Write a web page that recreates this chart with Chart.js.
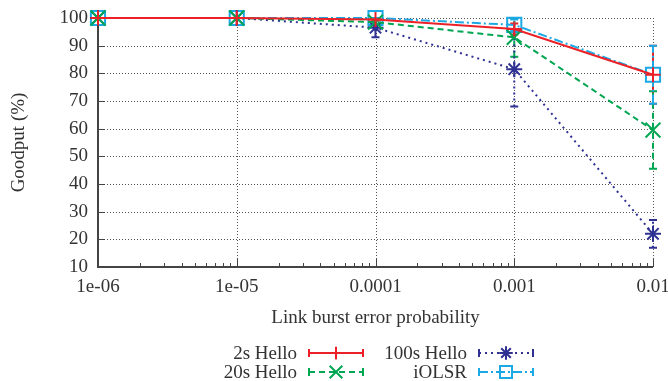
<!DOCTYPE html>
<html>
<head>
<meta charset="utf-8">
<script src="https://cdn.jsdelivr.net/npm/chart.js@4/dist/chart.umd.min.js"></script>
<style>
html,body{margin:0;padding:0;background:#fff;}
#wrap{width:668px;height:381px;position:relative;}
</style>
</head>
<body>
<div id="wrap"><canvas id="c" width="668" height="381"></canvas></div>
<script>
// ---- data ----
const xValues = [1e-6, 1e-5, 1e-4, 1e-3, 1e-2];
const xTickLabels = ['1e-06', '1e-05', '0.0001', '0.001', '0.01'];
const seriesNames = ['2s Hello', '20s Hello', '100s Hello', 'iOLSR'];
const hello2s   = [100, 100, 99.5, 96, 79.5];
const hello2sLo = [100, 100, 99, 94, 69];
const hello2sHi = [100, 100, 100, 98, 90];
const hello20s   = [100, 100, 98.5, 93, 59.5];
const hello20sLo = [100, 100, 97.5, 86, 45.5];
const hello20sHi = [100, 100, 99.5, 100, 73.5];
const hello100s   = [100, 100, 96.5, 81.5, 22];
const hello100sLo = [100, 100, 93, 68, 17];
const hello100sHi = [100, 100, 100, 95, 27];
const iolsr   = [100, 100, 100, 97.5, 79.5];
const iolsrLo = [100, 100, 99.5, 95.5, 69];
const iolsrHi = [100, 100, 100, 99.5, 90];
const yTicks = [10, 20, 30, 40, 50, 60, 70, 80, 90, 100];

const FONT = "'Liberation Serif', 'DejaVu Serif', serif";
const FS = 19;
const TXT = '#333';

function pts(vals){ return xValues.map((x,i)=>({x:x, y:vals[i]})); }

const styles = [
  {color:'#ec2127', dash:[], pointStyle:'cross', radius:7.5},
  {color:'#00a651', dash:[6,4], pointStyle:'crossRot', radius:10.5},
  {color:'#2e3192', dash:[2,4], pointStyle:'star', radius:8},
  {color:'#1ba9e6', dash:[9,3,2,3], pointStyle:'rect', radius:10}
];
const vals = [hello2s, hello20s, hello100s, iolsr];
const lows = [hello2sLo, hello20sLo, hello100sLo, iolsrLo];
const highs = [hello2sHi, hello20sHi, hello100sHi, iolsrHi];

const datasets = seriesNames.map((n,i)=>({
  label:n,
  data:pts(vals[i]),
  errLow:lows[i], errHigh:highs[i],
  borderColor:styles[i].color,
  backgroundColor:'rgba(0,0,0,0)',
  borderWidth:2,
  borderDash:styles[i].dash,
  pointStyle:styles[i].pointStyle,
  pointRadius:styles[i].radius,
  pointBorderWidth:2,
  pointBorderColor:styles[i].color,
  pointBackgroundColor:'rgba(0,0,0,0)',
  tension:0,
  fill:false,
  clip:false
}));

function drawMarker(ctx, style, r, x, y, color){
  ctx.save();
  ctx.setLineDash([]);
  ctx.strokeStyle = color; ctx.fillStyle = 'rgba(0,0,0,0)'; ctx.lineWidth = 2;
  if (Chart.helpers && Chart.helpers.drawPoint) {
    Chart.helpers.drawPoint(ctx, {pointStyle:style, radius:r, rotation:0, borderWidth:2}, x, y);
  }
  ctx.restore();
}

const errorBars = {
  id:'errorBars',
  beforeDatasetsDraw(chart){
    const ctx = chart.ctx, xs = chart.scales.x, ys = chart.scales.y;
    chart.data.datasets.forEach((ds)=>{
      ds.data.forEach((p,i)=>{
        const lo = ds.errLow[i], hi = ds.errHigh[i];
        if (hi - lo < 0.5) return;
        const px = xs.getPixelForValue(p.x);
        const y1 = ys.getPixelForValue(lo), y2 = ys.getPixelForValue(hi);
        ctx.save();
        ctx.strokeStyle = ds.borderColor; ctx.lineWidth = 2;
        ctx.setLineDash(ds.borderDash);
        ctx.beginPath(); ctx.moveTo(px,y1); ctx.lineTo(px,y2); ctx.stroke();
        ctx.setLineDash([]);
        ctx.beginPath();
        ctx.moveTo(px-4,y1); ctx.lineTo(px+4,y1);
        ctx.moveTo(px-4,y2); ctx.lineTo(px+4,y2);
        ctx.stroke();
        ctx.restore();
      });
    });
  }
};

const frame = {
  id:'frame',
  beforeDatasetsDraw(chart){
    const ctx = chart.ctx, xs = chart.scales.x, ys = chart.scales.y, a = chart.chartArea;
    ctx.save();
    ctx.strokeStyle = '#555'; ctx.lineWidth = 1; ctx.setLineDash([1,2]);
    yTicks.forEach(v=>{
      if (v === 10) return;
      const y = Math.round(ys.getPixelForValue(v))+0.5;
      ctx.beginPath(); ctx.moveTo(a.left, y); ctx.lineTo(a.right, y); ctx.stroke();
    });
    xValues.forEach((v,i)=>{
      if (i === 0) return;
      const x = Math.round(xs.getPixelForValue(v))+0.5;
      ctx.beginPath(); ctx.moveTo(x, a.top); ctx.lineTo(x, a.bottom); ctx.stroke();
    });
    ctx.setLineDash([]); ctx.strokeStyle = '#444'; ctx.lineWidth = 1;
    for (let d = 0; d < xValues.length - 1; d++) {
      for (let k = 2; k <= 9; k++) {
        const x = Math.round(xs.getPixelForValue(xValues[d]*k))+0.5;
        ctx.beginPath(); ctx.moveTo(x, a.bottom); ctx.lineTo(x, a.bottom-4); ctx.stroke();
      }
    }
    xValues.forEach(v=>{
      const x = Math.round(xs.getPixelForValue(v))+0.5;
      ctx.beginPath(); ctx.moveTo(x, a.bottom); ctx.lineTo(x, a.bottom-8); ctx.stroke();
    });
    yTicks.forEach(v=>{
      const y = Math.round(ys.getPixelForValue(v))+0.5;
      ctx.beginPath(); ctx.moveTo(a.left, y); ctx.lineTo(a.left+7, y); ctx.stroke();
    });
    ctx.strokeStyle = '#444'; ctx.lineWidth = 2;
    ctx.beginPath();
    ctx.moveTo(a.left, a.top); ctx.lineTo(a.left, a.bottom); ctx.lineTo(a.right, a.bottom);
    ctx.stroke();
    ctx.restore();
  }
};

const legendPlugin = {
  id:'customLegend',
  afterDraw(chart){
    const ctx = chart.ctx;
    const layout = [
      {ds:0, tx:297, y:353}, {ds:2, tx:467, y:353},
      {ds:1, tx:297, y:372}, {ds:3, tx:467, y:372}
    ];
    layout.forEach(it=>{
      const ds = chart.data.datasets[it.ds];
      ctx.save();
      ctx.font = FS + 'px ' + FONT;
      ctx.fillStyle = TXT; ctx.textAlign = 'right'; ctx.textBaseline = 'middle';
      ctx.fillText(ds.label, it.tx, it.y + 1);
      const x1 = it.tx + 12, x2 = it.tx + 66;
      ctx.strokeStyle = ds.borderColor; ctx.lineWidth = 2;
      ctx.setLineDash(ds.borderDash);
      ctx.beginPath(); ctx.moveTo(x1, it.y); ctx.lineTo(x2, it.y); ctx.stroke();
      ctx.setLineDash([]);
      ctx.beginPath();
      ctx.moveTo(x1, it.y-4); ctx.lineTo(x1, it.y+4);
      ctx.moveTo(x2, it.y-4); ctx.lineTo(x2, it.y+4);
      ctx.stroke();
      ctx.restore();
      drawMarker(ctx, ds.pointStyle, ds.pointRadius * 0.85, (x1+x2)/2, it.y, ds.borderColor);
    });
  }
};

new Chart(document.getElementById('c'), {
  type:'line',
  data:{datasets:datasets},
  options:{
    responsive:false,
    animation:false,
    events:[],
    layout:{padding:{left:8, right:15, top:18, bottom:52}},
    plugins:{legend:{display:false}, tooltip:{enabled:false}},
    scales:{
      x:{
        type:'logarithmic',
        min:1e-6, max:1e-2,
        grid:{display:false, drawTicks:false},
        border:{display:false},
        afterBuildTicks(scale){ scale.ticks = xValues.map(v=>({value:v})); },
        afterFit(scale){ scale.height = 62; scale.paddingLeft = 0; scale.paddingRight = 0; },
        ticks:{
          autoSkip:false, maxRotation:0, padding:9,
          color:TXT, font:{family:FONT, size:FS},
          callback(value){ const i = xValues.indexOf(value); return i >= 0 ? xTickLabels[i] : ''; }
        },
        title:{display:true, text:'Link burst error probability', color:TXT,
               font:{family:FONT, size:FS}, padding:{top:0, bottom:0}}
      },
      y:{
        min:10, max:100,
        grid:{display:false, drawTicks:false},
        border:{display:false},
        afterFit(scale){ scale.width = 90; scale.paddingTop = 0; scale.paddingBottom = 0; },
        afterBuildTicks(scale){ scale.ticks = yTicks.map(v=>({value:v})); },
        ticks:{padding:10, color:TXT, font:{family:FONT, size:FS}},
        title:{display:true, text:'Goodput (%)', color:TXT,
               font:{family:FONT, size:FS}, padding:{top:0, bottom:0}}
      }
    }
  },
  plugins:[frame, errorBars, legendPlugin]
});
</script>
</body>
</html>
